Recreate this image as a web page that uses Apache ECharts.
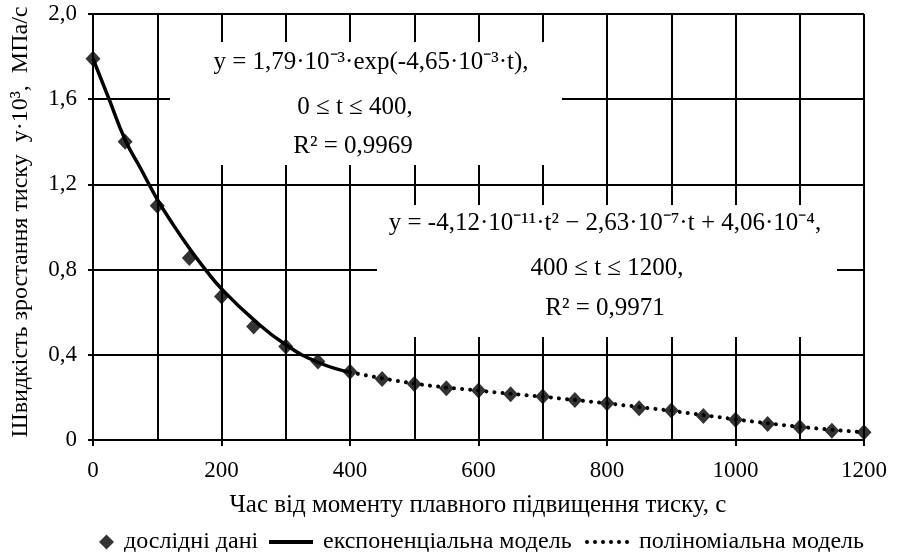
<!DOCTYPE html>
<html>
<head>
<meta charset="utf-8">
<script src="https://cdn.jsdelivr.net/npm/echarts@6/dist/echarts.min.js"></script>
<style>
html,body{margin:0;padding:0;background:#fff;}
#chart{width:899px;height:552px;}
</style>
</head>
<body>
<div id="chart"></div>
<script>
// Experimental data (y·10^3, MPa/s) vs time t, s
var tData = [0,50,100,150,200,250,300,350,400,450,500,550,600,650,700,750,800,850,900,950,1000,1050,1100,1150,1200];
var yData = [1.79,1.40,1.10,0.855,0.674,0.533,0.439,0.368,0.321,0.286,0.263,0.243,0.232,0.215,0.204,0.188,0.172,0.149,0.138,0.113,0.095,0.075,0.060,0.044,0.036];
// Exponential model curve
var expT = [0,25,50,75,100,125,150,175,200,250,300,350,400];
var expY = [1.79,1.60,1.41,1.27,1.13,1.01,0.90,0.80,0.71,0.565,0.447,0.365,0.318];
// Polynomial model curve
var polyT = [400,500,600,700,800,900,1000,1100,1200];
var polyY = [0.318,0.265,0.232,0.203,0.172,0.137,0.097,0.062,0.036];
var yTicks = [0,0.4,0.8,1.2,1.6,2.0];
var xTicks = [0,200,400,600,800,1000,1200];

var names = ['дослідні дані','експоненціальна модель','поліноміальна модель'];
var FONT = 'Liberation Serif';

function zip(a,b){return a.map(function(v,i){return [v,b[i]];});}
function dotsPath(){
  var p = 'path://';
  for (var cx = 2; cx <= 42; cx += 8) {
    p += 'M' + (cx-2) + ',2a2,2 0 1,0 4,0a2,2 0 1,0 -4,0Z';
  }
  return p;
}
var legendText = {fontFamily:FONT,fontSize:24,color:'#000',padding:[0,0,0,5]};
var annFont = '25px "Liberation Serif"';
function ann(x,y,txt){
  return {type:'text',z:60,x:x,y:y,style:{text:txt,font:annFont,fill:'#000',textAlign:'center',textVerticalAlign:'middle'}};
}

var chart = echarts.init(document.getElementById('chart'));
var option = {
  backgroundColor:'#fff',
  animation:false,
  textStyle:{fontFamily:FONT,color:'#000'},
  grid:{left:93,right:35,top:14,bottom:112,show:false},
  xAxis:{
    type:'value',min:0,max:1200,interval:200,
    axisLine:{show:true,onZero:false,lineStyle:{color:'#000',width:2}},
    axisTick:{show:true,length:6,lineStyle:{color:'#000',width:2}},
    axisLabel:{fontFamily:FONT,fontSize:23,color:'#000',margin:19,
      formatter:function(v){return xTicks.indexOf(v)>=0?String(v):'';}},
    splitLine:{show:true,lineStyle:{color:'#000',width:2}},
    minorTick:{show:false,splitNumber:2},
    minorSplitLine:{show:true,lineStyle:{color:'#000',width:2}}
  },
  yAxis:{
    type:'value',min:0,max:2.0,interval:0.4,
    axisLine:{show:true,lineStyle:{color:'#000',width:2}},
    axisTick:{show:true,length:5,lineStyle:{color:'#000',width:2}},
    axisLabel:{fontFamily:FONT,fontSize:23,color:'#000',margin:16,
      formatter:function(v){return v===0?'0':v.toFixed(1).replace('.',',');}},
    splitLine:{show:true,lineStyle:{color:'#000',width:2}}
  },
  legend:[
    {data:[{name:names[0],icon:'diamond'}],left:94,top:525,itemWidth:15,itemHeight:15,
     textStyle:legendText},
    {data:[{name:names[1],icon:'rect'}],left:264,top:525,itemWidth:44,itemHeight:4,
     textStyle:legendText},
    {data:[{name:names[2],icon:dotsPath()}],left:580,top:525,itemWidth:44,itemHeight:4,
     textStyle:legendText}
  ],
  graphic:[
    {type:'rect',z:50,shape:{x:170,y:42,width:392,height:123},style:{fill:'#fff'}},
    {type:'rect',z:50,shape:{x:377,y:205,width:460,height:132},style:{fill:'#fff'}},
    ann(371,62,'y = 1,79·10⁻³·exp(-4,65·10⁻³·t),'),
    ann(355,107,'0 ≤ t ≤ 400,'),
    ann(353,146,'R² = 0,9969'),
    ann(605,223,'y = -4,12·10⁻¹¹·t² − 2,63·10⁻⁷·t + 4,06·10⁻⁴,'),
    ann(607,268,'400 ≤ t ≤ 1200,'),
    ann(605,308,'R² = 0,9971'),
    {type:'text',z:60,x:478,y:505,style:{text:'Час від моменту плавного підвищення тиску, с',font:'25px "Liberation Serif"',fill:'#000',textAlign:'center',textVerticalAlign:'middle'}},
    {type:'text',z:60,x:21,y:222,rotation:Math.PI/2,style:{text:'Швидкість зростання тиску  y·10³,  МПа/с',font:'24px "Liberation Serif"',fill:'#000',textAlign:'center',textVerticalAlign:'middle'}}
  ],
  series:[
    {name:names[1],type:'line',data:zip(expT,expY),smooth:0.5,symbol:'none',z:3,
     lineStyle:{color:'#000',width:3.5},itemStyle:{color:'#000'}},
    {name:names[2],type:'line',data:zip(polyT,polyY),smooth:0.4,symbol:'none',z:3,
     lineStyle:{color:'#000',width:4,type:[0.1,8],cap:'round'},itemStyle:{color:'#000'}},
    {name:names[0],type:'scatter',data:zip(tData,yData),symbol:'diamond',symbolSize:[15,16],z:4,
     itemStyle:{color:'#000'}}
  ]
};
chart.setOption(option);
</script>
</body>
</html>
